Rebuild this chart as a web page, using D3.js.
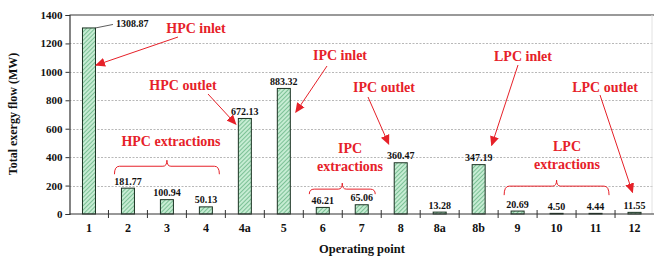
<!DOCTYPE html>
<html>
<head>
<meta charset="utf-8">
<script src="https://cdn.jsdelivr.net/npm/d3@7"></script>
<style>
  body { margin: 0; background: #fff; }
  svg text { font-family: "Liberation Serif", "Times New Roman", serif; font-weight: bold; }
</style>
</head>
<body>
<div id="chart"></div>
<script>
// data
var points = ["1", "2", "3", "4", "4a", "5", "6", "7", "8", "8a", "8b", "9", "10", "11", "12"];
var exergy = [1308.87, 181.77, 100.94, 50.13, 672.13, 883.32, 46.21, 65.06, 360.47, 13.28, 347.19, 20.69, 4.50, 4.44, 11.55];
var yTicks = [0, 200, 400, 600, 800, 1000, 1200, 1400];

// red callouts: text at [px x, px y], arrow from text to [point, value, side]
var callouts = [
  {lines: ["HPC inlet"], x: 196, y: 28, from: [178, 37], to: ["1", 1047, 7]},
  {lines: ["HPC outlet"], x: 183, y: 85, from: [208, 94], to: ["4a", 632, -9]},
  {lines: ["IPC inlet"], x: 340, y: 55, from: [327, 66], to: ["5", 716, 12]},
  {lines: ["IPC outlet"], x: 384, y: 87, from: [368, 97], to: ["8", 492, -12]},
  {lines: ["LPC inlet"], x: 523, y: 56, from: [518, 65], to: ["8b", 483, 13]},
  {lines: ["LPC outlet"], x: 605, y: 87, from: [600, 95], to: ["12", 152, -2]}
];
var groups = [
  {lines: ["HPC extractions"], x: 171, y: 141, first: "2", last: "4", level: 336, drop: 8},
  {lines: ["IPC", "extractions"], x: 350, y: 148, first: "6", last: "7", level: 175, drop: 5},
  {lines: ["LPC", "extractions"], x: 567, y: 146, first: "9", last: "11", level: 196, drop: 9}
];

var margin = {top: 15, right: 0, bottom: 42, left: 69.5},
    width = 654 - margin.left - margin.right,
    height = 256 - margin.top - margin.bottom;

var svg = d3.select("#chart")
    .append("svg")
    .attr("width", 654)
    .attr("height", 256);

var defs = svg.append("defs");
var pat = defs.append("pattern")
    .attr("id", "hatch")
    .attr("patternUnits", "userSpaceOnUse")
    .attr("width", 3)
    .attr("height", 3)
    .attr("patternTransform", "rotate(45)");
pat.append("rect").attr("width", 3).attr("height", 3).attr("fill", "#c6ecd3");
pat.append("line")
    .attr("x1", 0).attr("y1", 0).attr("x2", 0).attr("y2", 3)
    .attr("stroke", "#3f9d63").attr("stroke-width", 1.1);

defs.append("marker")
    .attr("id", "arrow")
    .attr("viewBox", "0 0 10 10")
    .attr("refX", 9).attr("refY", 5)
    .attr("markerWidth", 10).attr("markerHeight", 10)
    .attr("markerUnits", "userSpaceOnUse")
    .attr("orient", "auto")
    .append("path")
    .attr("d", "M0,0.5 L10,5 L0,9.5 Z")
    .attr("fill", "#e62129");

var g = svg.append("g")
    .attr("transform", "translate(" + margin.left + "," + margin.top + ")");

var x = d3.scaleBand()
    .domain(points)
    .range([0, width])
    .padding(0);

var y = d3.scaleLinear()
    .domain([0, 1400])
    .range([height, 0]);

var barW = 13;
var cx = function(p) { return x(p) + x.bandwidth() / 2; };

// grid
g.append("g")
    .selectAll("line")
    .data(yTicks.filter(function(d) { return d > 0 && d < 1400; }))
    .enter().append("line")
    .attr("x1", 0).attr("x2", width)
    .attr("y1", function(d) { return Math.round(y(d)) + 0.5; })
    .attr("y2", function(d) { return Math.round(y(d)) + 0.5; })
    .attr("stroke", "#b8b8b8")
    .attr("stroke-dasharray", "2,1.5");

// frame top and right
g.append("line")
    .attr("x1", 0).attr("x2", width)
    .attr("y1", y(1400)).attr("y2", y(1400))
    .attr("stroke", "#777").attr("stroke-width", 1.6);
g.append("line")
    .attr("x1", width - 2).attr("x2", width - 2)
    .attr("y1", y(1400)).attr("y2", height)
    .attr("stroke", "#e2e2e2");

// bars
g.append("g")
    .selectAll("rect")
    .data(exergy)
    .enter().append("rect")
    .attr("x", function(d, i) { return cx(points[i]) - barW / 2; })
    .attr("y", function(d) { return y(d); })
    .attr("width", barW)
    .attr("height", function(d) { return height - y(d); })
    .attr("fill", "url(#hatch)")
    .attr("stroke", "#1b3323")
    .attr("stroke-width", 1);

// value labels
g.append("g")
    .selectAll("text")
    .data(exergy)
    .enter().append("text")
    .attr("x", function(d, i) { return i === 0 ? cx(points[i]) + 27 : cx(points[i]); })
    .attr("y", function(d, i) { return i === 0 ? y(d) - 0.5 : y(d) - 3.5; })
    .attr("text-anchor", function(d, i) { return i === 0 ? "start" : "middle"; })
    .attr("font-size", 10)
    .attr("fill", "#111")
    .text(function(d) { return d3.format(".2f")(d); });

// leader for the first label
g.append("line")
    .attr("x1", cx("1") + barW / 2).attr("y1", y(exergy[0]))
    .attr("x2", cx("1") + 24).attr("y2", y(exergy[0]) - 3.5)
    .attr("stroke", "#333").attr("stroke-width", 0.8);

// y axis
var yAxis = g.append("g")
    .call(d3.axisLeft(y).tickValues(yTicks).tickFormat(d3.format("d")).tickSize(4).tickPadding(3));
yAxis.select(".domain").attr("stroke", "#333").attr("stroke-width", 1.2);
yAxis.selectAll(".tick line").attr("stroke", "#333");
yAxis.selectAll("text")
    .attr("font-size", 11)
    .attr("font-family", "Liberation Serif, serif")
    .attr("font-weight", "bold")
    .attr("fill", "#111");

// x axis: line, boundary ticks, labels
g.append("line")
    .attr("x1", 0).attr("x2", width)
    .attr("y1", height).attr("y2", height)
    .attr("stroke", "#333").attr("stroke-width", 1.2);
g.append("g")
    .selectAll("line")
    .data(points.slice(1))
    .enter().append("line")
    .attr("x1", function(d) { return x(d); })
    .attr("x2", function(d) { return x(d); })
    .attr("y1", height - 4).attr("y2", height + 4)
    .attr("stroke", "#333").attr("stroke-width", 1);
g.append("g")
    .selectAll("text")
    .data(points)
    .enter().append("text")
    .attr("x", function(d) { return cx(d); })
    .attr("y", height + 18)
    .attr("text-anchor", "middle")
    .attr("font-size", 12)
    .attr("fill", "#111")
    .text(function(d) { return d; });

// axis titles
svg.append("text")
    .attr("x", 362).attr("y", 253)
    .attr("text-anchor", "middle")
    .attr("font-size", 12.5)
    .attr("fill", "#111")
    .text("Operating point");
svg.append("text")
    .attr("transform", "translate(17,114) rotate(-90)")
    .attr("text-anchor", "middle")
    .attr("font-size", 12)
    .attr("fill", "#111")
    .text("Total exergy flow (MW)");

// callouts
var red = "#e62129";
var ann = svg.append("g");
callouts.forEach(function(c) {
    ann.append("text")
        .attr("x", c.x).attr("y", c.y + 5)
        .attr("text-anchor", "middle")
        .attr("font-size", 14)
        .attr("fill", red)
        .text(c.lines[0]);
    var tx = margin.left + cx(c.to[0]) + c.to[2];
    var ty = margin.top + y(c.to[1]);
    ann.append("line")
        .attr("x1", c.from[0]).attr("y1", c.from[1])
        .attr("x2", tx).attr("y2", ty)
        .attr("stroke", red).attr("stroke-width", 1)
        .attr("marker-end", "url(#arrow)");
});

groups.forEach(function(b) {
    b.lines.forEach(function(l, k) {
        ann.append("text")
            .attr("x", b.x).attr("y", b.y + 5 + k * 18)
            .attr("text-anchor", "middle")
            .attr("font-size", 14)
            .attr("fill", red)
            .text(l);
    });
    var x1 = margin.left + x(b.first) + 6,
        x2 = margin.left + x(b.last) + x.bandwidth() - 6,
        yb = margin.top + y(b.level),
        xm = (x1 + x2) / 2;
    var p = d3.path();
    p.moveTo(x1, yb + b.drop);
    p.quadraticCurveTo(x1, yb, x1 + 5, yb);
    p.lineTo(xm - 4, yb);
    p.quadraticCurveTo(xm, yb, xm, yb - 6);
    p.quadraticCurveTo(xm, yb, xm + 4, yb);
    p.lineTo(x2 - 5, yb);
    p.quadraticCurveTo(x2, yb, x2, yb + b.drop);
    ann.append("path")
        .attr("d", p.toString())
        .attr("fill", "none")
        .attr("stroke", red)
        .attr("stroke-width", 1);
});
</script>
</body>
</html>
